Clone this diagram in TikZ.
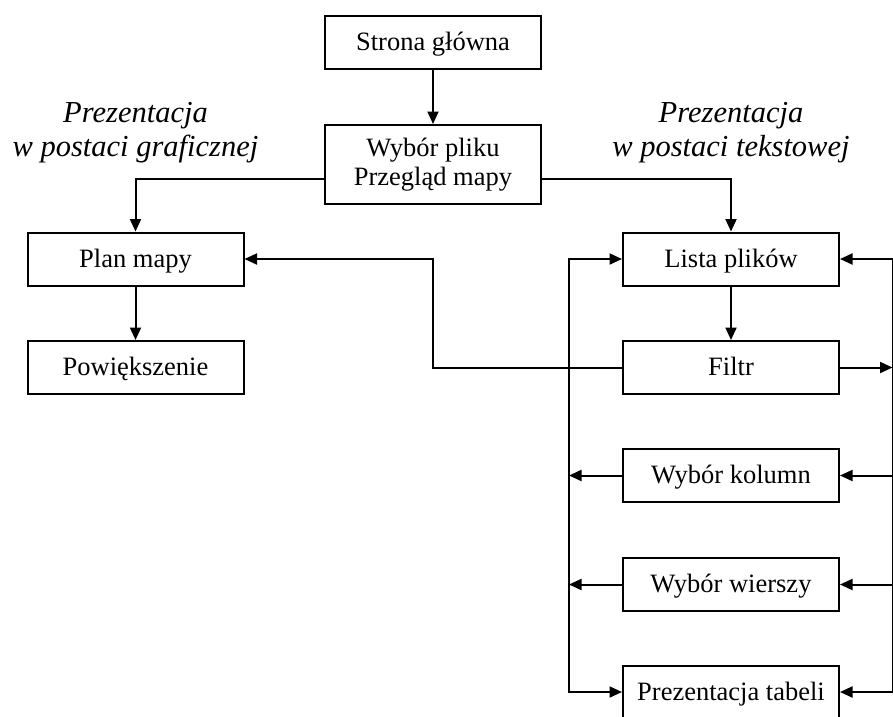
\documentclass[tikz,border=0pt]{standalone}
\usepackage{fontspec}
\setmainfont{Liberation Serif}
\usepackage{tikz}
\usetikzlibrary{arrows.meta}
\usetikzlibrary{positioning}

\begin{document}
\begin{tikzpicture}[x=1pt,y=-1pt,
    ramka/.style={draw, line width=2pt, minimum width=216pt, minimum height=53pt,
      inner sep=0pt, font=\fontsize{26.5}{29.5}\selectfont, align=center},
    box/.style={ramka, text height=18pt, text depth=2pt},
    opis/.style={font=\fontsize{30.5}{34}\selectfont\itshape, align=center},
    arr/.style={line width=2pt, -{Triangle[length=12.5pt,width=11pt]}},
    arr2/.style={line width=2pt, {Triangle[length=12.5pt,width=11pt]}-{Triangle[length=12.5pt,width=11pt]}}]
          \useasboundingbox (0,0) rectangle (893,716);
          \node[box] (str) at (433,42.5){Strona główna};
          \node[ramka, minimum height=79pt] (wyb) at (433,164.5){Wybór pliku\\Przegląd mapy};
          \node[opis] (og) at (135.5,133){Prezentacja\\w postaci graficznej};
          \node[opis] (ot) at (731,133){Prezentacja\\w postaci tekstowej};
          \node[box] (plan) at (135.5,259){Plan mapy};
          \node[box] (pow) at (135.5,367.5){Powiększenie};
          \node[box] (lista) at (731,259){Lista plików};
          \node[box] (filtr) at (731,367.5){Filtr};
          \node[box] (kol) at (731,475.5){Wybór kolumn};
          \node[box] (wie) at (731,584.5){Wybór wierszy};
          \node[box] (tab) at (731,692){Prezentacja tabeli};
          \coordinate (lb) at (569,0);
          \coordinate (rb) at (892.5,0);
          \draw[arr](str) -- (wyb);
          \draw[arr]([yshift=-14.5pt]wyb.west) -| (plan.north);
          \draw[arr]([yshift=-14.5pt]wyb.east) -| (lista.north);
          \draw[arr](plan) -- (pow);
          \draw[arr](lista) -- (filtr);
          \draw[arr](filtr.west) -- (filtr.west -| wyb) |- (plan.east);
          \draw[arr](filtr.east) -- (filtr.east -| rb);
          \draw[arr2](lista.west) -| (tab.west -| lb) -- (tab.west);
          \draw[arr](kol.west) -- (kol.west -| lb);
          \draw[arr](wie.west) -- (wie.west -| lb);
          \draw[arr2](lista.east) -| (tab.east -| rb) -- (tab.east);
          \draw[arr](kol.east -| rb) -- (kol.east);
          \draw[arr](wie.east -| rb) -- (wie.east);
        \end{tikzpicture}
\end{document}
